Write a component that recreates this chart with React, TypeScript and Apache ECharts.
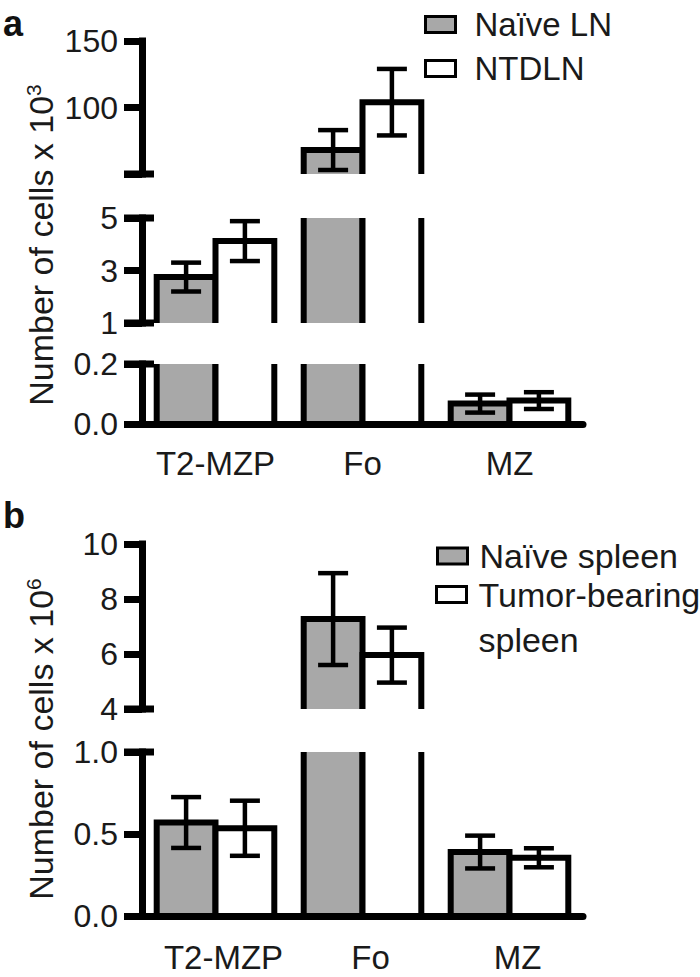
import React, { useEffect, useRef } from 'react';
import * as echarts from 'echarts';

// ---------- data ----------
const categories = ['T2-MZP', 'Fo', 'MZ'];

// Panel a: lymph nodes, number of cells x 10^3
const lnNames = ['Naïve LN', 'NTDLN'];
const naiveLN = [2.75, 68, 0.068];
const naiveLNErr = [0.55, 15, 0.03];
const ntdln = [4.12, 104, 0.078];
const ntdlnErr = [0.76, 25, 0.028];

// Panel b: spleen, number of cells x 10^6
const spleenNames = ['Naïve spleen', 'Tumor-bearing spleen'];
const naiveSpleen = [0.57, 7.27, 0.39];
const naiveSpleenErr = [0.155, 1.67, 0.1];
const tumorSpleen = [0.535, 5.96, 0.355];
const tumorSpleenErr = [0.168, 1.0, 0.058];

// broken-axis segments: ticks, tick labels, break marks
const aTopRange = [50, 150];
const aTopTicks = [50, 100, 150];
const aTopLabels = [100, 150];
const aTopBreaks = [50];
const aMidRange = [1, 5];
const aMidTicks = [1, 3, 5];
const aMidLabels = [1, 3, 5];
const aMidBreaks = [1, 5];
const aBotRange = [0, 0.2];
const aBotTicks = [0, 0.2];
const aBotLabels = [0, 0.2];
const aBotBreaks = [0.2];
const bTopRange = [4, 10];
const bTopTicks = [4, 6, 8, 10];
const bTopLabels = [4, 6, 8, 10];
const bTopBreaks = [4];
const bBotRange = [0, 1];
const bBotTicks = [0, 0.5, 1];
const bBotLabels = [0, 0.5, 1];
const bBotBreaks = [1];

// ---------- style / layout ----------
const FONT = "'Liberation Sans', Arial, Helvetica, sans-serif";
const TEXT = '#1a1a1a';
const GRAY = '#a8a8a8';
const AXIS_W = 7;
const BAR_BORDER = 6;
const ERR_W = 4.5;
const CAP_W = 30;
const TICK_LEN = 18;

const GRID_LEFT = 142;
const GRID_WIDTH = 441;
const gridBoxes = [
  { top: 41, height: 133 },
  { top: 218, height: 105 },
  { top: 364, height: 60 },
  { top: 544, height: 165 },
  { top: 752, height: 164 },
];

const segments = [
  { range: aTopRange, ticks: aTopTicks, labels: aTopLabels, breaks: aTopBreaks, dec: 0, bottom: false, panel: 0 },
  { range: aMidRange, ticks: aMidTicks, labels: aMidLabels, breaks: aMidBreaks, dec: 0, bottom: false, panel: 0 },
  { range: aBotRange, ticks: aBotTicks, labels: aBotLabels, breaks: aBotBreaks, dec: 1, bottom: true, panel: 0 },
  { range: bTopRange, ticks: bTopTicks, labels: bTopLabels, breaks: bTopBreaks, dec: 0, bottom: false, panel: 1 },
  { range: bBotRange, ticks: bBotTicks, labels: bBotLabels, breaks: bBotBreaks, dec: 1, bottom: true, panel: 1 },
];

const panelGroups = [
  [
    { name: lnNames[0], side: -1, fill: GRAY, values: naiveLN, errs: naiveLNErr },
    { name: lnNames[1], side: 1, fill: '#ffffff', values: ntdln, errs: ntdlnErr },
  ],
  [
    { name: spleenNames[0], side: -1, fill: GRAY, values: naiveSpleen, errs: naiveSpleenErr },
    { name: spleenNames[1], side: 1, fill: '#ffffff', values: tumorSpleen, errs: tumorSpleenErr },
  ],
];

const makeBarRender = (side: number, fill: string) => (params: any, api: any) => {
  const cs = params.coordSys;
  const cat = api.value(0);
  const v = api.value(1);
  const e = api.value(2);
  const band = api.size([1, 0])[0];
  const bw = band * 0.4;
  const cx = api.coord([cat, 0])[0];
  const x0 = side < 0 ? cx - bw : cx;
  const x1 = side < 0 ? cx : cx + bw;
  const gTop = cs.y;
  const gBot = cs.y + cs.height;
  const yV = api.coord([cat, v])[1];
  const y0 = api.coord([cat, 0])[1];
  const yT = Math.max(yV, gTop);
  const yB = Math.min(y0, gBot);
  const children: any[] = [];
  const ls = { stroke: '#000', lineWidth: BAR_BORDER, fill: 'none' };
  if (yT < yB) {
    children.push({ type: 'rect', shape: { x: x0, y: yT, width: x1 - x0, height: yB - yT }, style: { fill, stroke: 'none' } });
    if (yV >= gTop) {
      children.push({
        type: 'polyline',
        shape: { points: [[x0, yB], [x0, yT], [x1, yT], [x1, yB]] },
        style: { ...ls, lineJoin: 'miter' },
      });
    } else {
      children.push({ type: 'line', shape: { x1: x0, y1: yB, x2: x0, y2: yT }, style: ls });
      children.push({ type: 'line', shape: { x1: x1, y1: yB, x2: x1, y2: yT }, style: ls });
    }
  }
  if (yV >= gTop && yV <= gBot) {
    const xm = (x0 + x1) / 2;
    const yHi = api.coord([cat, v + e])[1];
    const yLo = api.coord([cat, v - e])[1];
    const es = { stroke: '#000', lineWidth: ERR_W, fill: 'none' };
    children.push({ type: 'line', shape: { x1: xm, y1: yLo, x2: xm, y2: yHi }, style: es });
    children.push({ type: 'line', shape: { x1: xm - CAP_W / 2, y1: yHi, x2: xm + CAP_W / 2, y2: yHi }, style: es });
    children.push({ type: 'line', shape: { x1: xm - CAP_W / 2, y1: yLo, x2: xm + CAP_W / 2, y2: yLo }, style: es });
  }
  return { type: 'group', children };
};

const breakRender = (params: any, api: any) => {
  const cs = params.coordSys;
  const y = api.coord([0, api.value(1)])[1];
  return {
    type: 'line',
    shape: { x1: cs.x - TICK_LEN, y1: y, x2: cs.x + 12, y2: y },
    style: { stroke: '#000', lineWidth: AXIS_W },
  };
};

function buildOption() {
  const grid = gridBoxes.map((g) => ({ left: GRID_LEFT, width: GRID_WIDTH, top: g.top, height: g.height }));

  const xAxis = segments.map((s, i) => ({
    gridIndex: i,
    type: 'category',
    data: categories,
    show: s.bottom,
    z: 10,
    axisLine: { show: true, lineStyle: { color: '#000', width: AXIS_W } },
    axisTick: { show: false },
    axisLabel: {
      interval: 0,
      hideOverlap: false,
      fontSize: 33,
      fontFamily: FONT,
      color: TEXT,
      margin: s.panel === 0 ? 23 : 25,
      padding: s.panel === 0 ? 0 : [0, 0, 0, 16],
    },
    splitLine: { show: false },
  }));

  const yAxis = segments.map((s, i) => ({
    gridIndex: i,
    type: 'value',
    min: s.range[0],
    max: s.range[1],
    z: 10,
    axisLine: { show: true, lineStyle: { color: '#000', width: AXIS_W, cap: 'square' } },
    axisTick: { show: true, length: TICK_LEN, lineStyle: { color: '#000', width: AXIS_W }, customValues: s.ticks },
    axisLabel: {
      customValues: s.labels,
      formatter: (v: number) => v.toFixed(s.dec),
      fontSize: 32,
      fontFamily: FONT,
      color: TEXT,
      margin: 24,
    },
    splitLine: { show: false },
  }));

  const series: any[] = [];
  segments.forEach((s, i) => {
    panelGroups[s.panel].forEach((g) => {
      series.push({
        type: 'custom',
        name: g.name,
        xAxisIndex: i,
        yAxisIndex: i,
        clip: true,
        z: 2,
        encode: { x: 0, y: 1 },
        itemStyle: { color: g.fill, borderColor: '#000', borderWidth: BAR_BORDER },
        data: categories.map((_, k) => [k, g.values[k], g.errs[k]]),
        renderItem: makeBarRender(g.side, g.fill),
      });
    });
    series.push({
      type: 'custom',
      name: 'axis-break-' + i,
      xAxisIndex: i,
      yAxisIndex: i,
      clip: false,
      silent: true,
      z: 3,
      encode: { x: 0, y: 1 },
      data: s.breaks.map((b) => [0, b]),
      renderItem: breakRender,
    });
  });

  const legendBase = {
    orient: 'vertical',
    padding: 0,
    itemWidth: 30,
    itemHeight: 16,
    icon: 'rect',
    selectedMode: false,
    itemStyle: { borderColor: '#000', borderWidth: 3 },
    textStyle: { fontSize: 33, fontFamily: FONT, color: TEXT, lineHeight: 16, padding: [0, 0, 0, 14] },
  };

  const legend = [
    { ...legendBase, data: [lnNames[0]], left: 424, top: 8 },
    { ...legendBase, data: [lnNames[1]], left: 424, top: 52 },
    { ...legendBase, data: [spleenNames[0]], left: 436, top: 539, textStyle: { ...legendBase.textStyle, fontSize: 34, padding: [0, 0, 0, 7] } },
    {
      ...legendBase,
      data: [spleenNames[1]],
      left: 435,
      top: 527,
      formatter: () => '\nTumor-bearing\nspleen',
      textStyle: { ...legendBase.textStyle, fontSize: 34, lineHeight: 45, padding: [0, 0, 0, 7] },
    },
  ];

  const yName = (sup: string, x: number, y: number) => ({
    type: 'text',
    x,
    y,
    rotation: Math.PI / 2,
    style: {
      text: '{n|Number of cells x 10}{s|' + sup + '}',
      align: 'center',
      verticalAlign: 'middle',
      rich: {
        n: { fontSize: 34, fontFamily: FONT, fill: TEXT, lineHeight: 36 },
        s: { fontSize: 21, fontFamily: FONT, fill: TEXT, verticalAlign: 'top', lineHeight: 36 },
      },
    },
  });

  const graphic = [
    yName('3', 41, 245),
    yName('6', 41, 739),
    { type: 'text', x: 3, y: 23, style: { text: 'a', fontSize: 36, fontWeight: 'bold', fontFamily: FONT, fill: '#111', verticalAlign: 'middle' } },
    { type: 'text', x: 3, y: 515, style: { text: 'b', fontSize: 36, fontWeight: 'bold', fontFamily: FONT, fill: '#111', verticalAlign: 'middle' } },
  ];

  return {
    animation: false,
    backgroundColor: '#ffffff',
    grid,
    xAxis,
    yAxis,
    legend,
    graphic,
    series,
  };
}

export default function App() {
  const ref = useRef<HTMLDivElement>(null);
  useEffect(() => {
    document.body.style.margin = '0';
    const chart = echarts.init(ref.current as HTMLDivElement, null, { renderer: 'svg' });
    chart.setOption(buildOption() as any);
    return () => chart.dispose();
  }, []);
  return <div ref={ref} style={{ width: 700, height: 977 }} />;
}
